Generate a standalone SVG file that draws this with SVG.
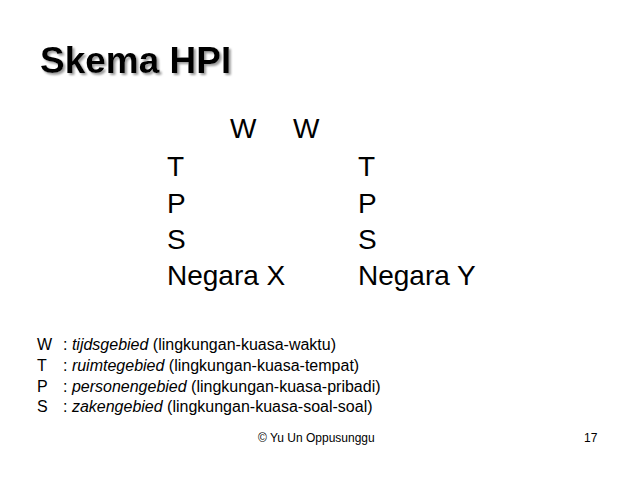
<svg xmlns="http://www.w3.org/2000/svg" width="638" height="479" viewBox="0 0 638 479">
<style>
.t{font-family:"Liberation Sans",Arial,sans-serif;fill:#000}
.title{font-size:37px;font-weight:bold}
.m{font-size:28px}
.l{font-size:16px}
.f{font-size:12px}
.i{font-style:italic}
</style>
<defs>
<filter id="shadow" x="-10%" y="-20%" width="130%" height="150%">
<feOffset in="SourceAlpha" dx="2" dy="2" result="o"/>
<feGaussianBlur in="o" stdDeviation="0.8" result="b"/>
<feFlood flood-color="#9a9a9a"/>
<feComposite in2="b" operator="in" result="s"/>
<feMerge><feMergeNode in="s"/><feMergeNode in="SourceGraphic"/></feMerge>
</filter>
</defs>
<rect width="638" height="479" fill="#fff"/>
<g id="title">
<text class="t title" x="40" y="73" filter="url(#shadow)">Skema HPI</text>
</g>
<g id="main">
<text class="t m" x="230" y="138">W</text>
<text class="t m" x="293" y="138">W</text>
<text class="t m" x="167" y="176">T</text>
<text class="t m" x="167" y="213">P</text>
<text class="t m" x="167" y="249">S</text>
<text class="t m" x="167" y="285">Negara X</text>
<text class="t m" x="358" y="176">T</text>
<text class="t m" x="358" y="213">P</text>
<text class="t m" x="358" y="249">S</text>
<text class="t m" x="358" y="285">Negara Y</text>
</g>
<g id="legend">
<text class="t l" x="37" y="350">W<tspan x="63">: </tspan><tspan class="i">tijdsgebied</tspan> (lingkungan-kuasa-waktu)</text>
<text class="t l" x="37" y="371">T<tspan x="63">: </tspan><tspan class="i">ruimtegebied</tspan> (lingkungan-kuasa-tempat)</text>
<text class="t l" x="37" y="392">P<tspan x="63">: </tspan><tspan class="i">personengebied</tspan> (lingkungan-kuasa-pribadi)</text>
<text class="t l" x="37" y="412">S<tspan x="63">: </tspan><tspan class="i">zakengebied</tspan> (lingkungan-kuasa-soal-soal)</text>
</g>
<g id="footer">
<text class="t f" x="258" y="442">© Yu Un Oppusunggu</text>
<text class="t f" x="584" y="442">17</text>
</g>
</svg>
